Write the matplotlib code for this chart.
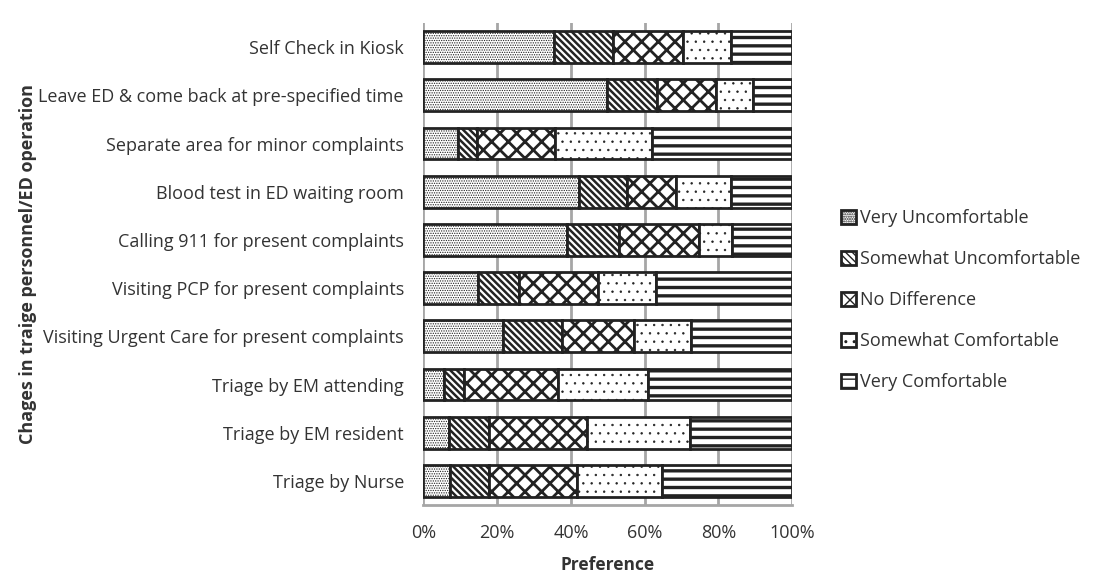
import numpy as np
import matplotlib as mpl
import matplotlib.pyplot as plt

plt.rcParams['font.family'] = ['Open Sans', 'DejaVu Sans']

# categories, top to bottom as shown
categories = ['Self Check in Kiosk',
              'Leave ED & come back at pre-specified time',
              'Separate area for minor complaints',
              'Blood test in ED waiting room',
              'Calling 911 for present complaints',
              'Visiting PCP for present complaints',
              'Visiting Urgent Care for present complaints',
              'Triage by EM attending',
              'Triage by EM resident',
              'Triage by Nurse']

# percentages per category (same order)
very_uncomf = [35.3, 49.7, 9.5, 42.1, 38.9, 14.7, 21.5, 5.7, 6.8, 7.3]
some_uncomf = [16.1, 13.6, 4.9, 13.0, 14.1, 11.1, 16.0, 5.4, 10.9, 10.4]
no_diff = [19.0, 16.0, 21.2, 13.4, 21.7, 21.5, 19.6, 25.3, 26.6, 23.9]
some_comf = [13.0, 10.1, 26.4, 14.9, 8.9, 15.7, 15.5, 24.5, 28.0, 23.1]
very_comf = [16.6, 10.6, 38.0, 16.6, 16.4, 37.0, 27.4, 39.1, 27.7, 35.3]

series = ['Very Uncomfortable', 'Somewhat Uncomfortable', 'No Difference',
          'Somewhat Comfortable', 'Very Comfortable']
hatches = ['.......', '\\\\\\\\\\', 'xx', '..', '--']
hatch_lw = [0.6, 1.8, 2.0, 0.5, 2.4]

data = np.array([very_uncomf, some_uncomf, no_diff, some_comf, very_comf])
data = data / data.sum(axis=0) * 100

fig = plt.figure(figsize=(10.97, 5.87), dpi=100)
ax = fig.add_axes([0.386, 0.1397, 0.336, 0.821])

y = np.arange(len(categories))[::-1]
left = np.zeros(len(categories))
for vals, h, hlw, name in zip(data, hatches, hatch_lw, series):
    # hatch linewidth is picked up when the bars are created
    with mpl.rc_context({'hatch.linewidth': hlw}):
        ax.barh(y, vals, left=left, height=0.66, color='white', edgecolor='#222222',
                linewidth=2, hatch=h, label=name, zorder=3)
    left += vals

ax.set_xlim(0, 100)
ax.set_ylim(-0.5, len(categories) - 0.5)
ax.set_xticks(np.arange(0, 101, 20))
ax.set_xticklabels([f'{t}%' for t in range(0, 101, 20)], fontsize=13, color='#333333')
ax.set_yticks(y)
ax.set_yticklabels(categories, fontsize=13, color='#333333')
ax.tick_params(axis='y', length=0, pad=14)
ax.tick_params(axis='x', length=0, pad=14)
ax.xaxis.grid(True, color='#a6a6a6', linewidth=2)
ax.set_axisbelow(True)
for s in ['top', 'right', 'left']:
    ax.spines[s].set_visible(False)
ax.spines['bottom'].set_color('#a6a6a6')
ax.spines['bottom'].set_linewidth(2)

ax.set_xlabel('Preference', fontsize=12.5, fontweight='bold', color='#333333', labelpad=10)
ax.set_ylabel('Chages in traige personnel/ED operation', fontsize=13,
              fontweight='bold', color='#333333', labelpad=1)

ax.legend(loc='center left', bbox_to_anchor=(1.09, 0.425), frameon=False, fontsize=13,
          handlelength=0.8, handleheight=0.8, handletextpad=0.2, labelspacing=1.28,
          labelcolor='#333333')

fig.savefig('out.png', dpi=100)
